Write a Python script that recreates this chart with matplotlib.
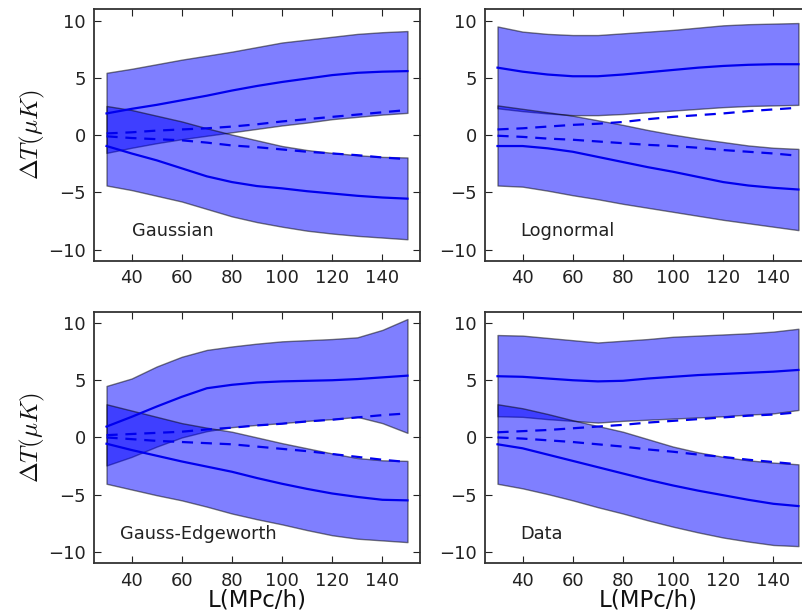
#! /usr/bin/env python
"""Temperature shift bands vs scale L for four models (2x2 panels)"""

import matplotlib
matplotlib.use("Agg")
from matplotlib import pyplot as plt

# Scale L (MPc/h) where values were read
L_VALUES = [30, 40, 50, 60, 70, 80, 90, 100, 110, 120, 130, 140, 150]

# Panel names
PANEL_NAMES = ["Gaussian", "Lognormal", "Gauss-Edgeworth", "Data"]

# Gaussian
GAUSS_UP_HI = [5.45, 5.8, 6.2, 6.6, 6.95, 7.3, 7.7, 8.1, 8.35, 8.6, 8.85, 9.0, 9.1]
GAUSS_UP_MID = [1.9, 2.3, 2.65, 3.05, 3.45, 3.9, 4.3, 4.65, 4.95, 5.25, 5.45, 5.55, 5.6]
GAUSS_UP_DASH = [0.15, 0.25, 0.4, 0.5, 0.6, 0.75, 0.95, 1.2, 1.4, 1.6, 1.8, 2.0, 2.2]
GAUSS_UP_LO = [-1.55, -1.1, -0.7, -0.35, -0.05, 0.25, 0.55, 0.85, 1.1, 1.4, 1.6, 1.8, 1.95]
GAUSS_LO_HI = [2.55, 2.2, 1.7, 1.2, 0.6, 0.05, -0.45, -0.95, -1.3, -1.55, -1.75, -1.9, -1.95]
GAUSS_LO_MID = [-0.95, -1.6, -2.2, -2.9, -3.6, -4.1, -4.45, -4.65, -4.9, -5.1, -5.3, -5.45, -5.55]
GAUSS_LO_DASH = [-0.1, -0.25, -0.35, -0.45, -0.65, -0.9, -1.05, -1.25, -1.45, -1.6, -1.75, -1.95, -2.1]
GAUSS_LO_LO = [-4.4, -4.8, -5.3, -5.8, -6.45, -7.1, -7.6, -8.0, -8.35, -8.6, -8.8, -8.95, -9.1]

# Lognormal
LOGN_UP_HI = [9.5, 9.05, 8.85, 8.75, 8.75, 8.9, 9.05, 9.2, 9.4, 9.6, 9.7, 9.75, 9.8]
LOGN_UP_MID = [5.9, 5.55, 5.3, 5.15, 5.15, 5.3, 5.5, 5.7, 5.9, 6.05, 6.15, 6.2, 6.2]
LOGN_UP_DASH = [0.5, 0.6, 0.75, 0.9, 1.0, 1.15, 1.4, 1.6, 1.75, 1.9, 2.1, 2.25, 2.4]
LOGN_UP_LO = [2.35, 2.1, 1.9, 1.75, 1.75, 1.85, 2.0, 2.15, 2.3, 2.45, 2.55, 2.6, 2.65]
LOGN_LO_HI = [2.6, 2.3, 2.0, 1.7, 1.3, 0.9, 0.45, 0.05, -0.3, -0.6, -0.9, -1.1, -1.2]
LOGN_LO_MID = [-0.95, -0.95, -1.15, -1.45, -1.9, -2.35, -2.8, -3.2, -3.65, -4.1, -4.4, -4.6, -4.75]
LOGN_LO_DASH = [-0.05, -0.15, -0.3, -0.4, -0.55, -0.7, -0.85, -0.95, -1.1, -1.3, -1.45, -1.6, -1.8]
LOGN_LO_LO = [-4.4, -4.5, -4.85, -5.25, -5.6, -6.0, -6.35, -6.7, -7.05, -7.4, -7.7, -8.0, -8.3]

# Gauss-Edgeworth
EDGE_UP_HI = [4.5, 5.15, 6.2, 7.05, 7.65, 7.95, 8.2, 8.4, 8.5, 8.6, 8.75, 9.4, 10.35]
EDGE_UP_MID = [0.95, 1.8, 2.7, 3.55, 4.3, 4.6, 4.8, 4.9, 4.95, 5.0, 5.1, 5.25, 5.4]
EDGE_UP_DASH = [0.2, 0.3, 0.4, 0.5, 0.7, 0.85, 1.05, 1.2, 1.4, 1.55, 1.75, 1.95, 2.1]
EDGE_UP_LO = [-2.45, -1.7, -0.8, 0.0, 0.55, 0.9, 1.1, 1.25, 1.45, 1.6, 1.8, 1.25, 0.4]
EDGE_LO_HI = [2.9, 2.35, 1.8, 1.25, 0.85, 0.5, 0.0, -0.5, -0.95, -1.4, -1.8, -2.0, -2.05]
EDGE_LO_MID = [-0.55, -1.1, -1.6, -2.1, -2.55, -3.0, -3.55, -4.05, -4.5, -4.9, -5.2, -5.45, -5.5]
EDGE_LO_DASH = [0.0, -0.15, -0.3, -0.4, -0.5, -0.6, -0.8, -1.0, -1.2, -1.45, -1.7, -1.95, -2.15]
EDGE_LO_LO = [-4.05, -4.55, -5.05, -5.5, -6.05, -6.65, -7.15, -7.6, -8.1, -8.55, -8.85, -9.0, -9.15]

# Data
DATA_UP_HI = [8.95, 8.9, 8.7, 8.5, 8.3, 8.45, 8.6, 8.8, 8.9, 9.0, 9.1, 9.25, 9.5]
DATA_UP_MID = [5.35, 5.3, 5.15, 5.0, 4.9, 4.95, 5.15, 5.3, 5.45, 5.55, 5.65, 5.75, 5.9]
DATA_UP_DASH = [0.45, 0.55, 0.65, 0.8, 0.95, 1.1, 1.3, 1.45, 1.6, 1.75, 1.9, 2.0, 2.2]
DATA_UP_LO = [1.85, 1.8, 1.6, 1.45, 1.3, 1.45, 1.55, 1.65, 1.75, 1.85, 2.0, 2.1, 2.4]
DATA_LO_HI = [2.9, 2.55, 2.05, 1.5, 1.0, 0.5, -0.15, -0.8, -1.3, -1.7, -2.0, -2.2, -2.35]
DATA_LO_MID = [-0.6, -0.95, -1.5, -2.05, -2.6, -3.15, -3.7, -4.2, -4.65, -5.05, -5.45, -5.8, -6.0]
DATA_LO_DASH = [0.0, -0.1, -0.25, -0.4, -0.6, -0.8, -1.05, -1.25, -1.5, -1.7, -1.95, -2.15, -2.35]
DATA_LO_LO = [-4.05, -4.45, -4.95, -5.5, -6.1, -6.65, -7.25, -7.8, -8.3, -8.75, -9.1, -9.4, -9.5]

PANEL_SERIES = [
    (GAUSS_UP_HI, GAUSS_UP_MID, GAUSS_UP_DASH, GAUSS_UP_LO,
     GAUSS_LO_HI, GAUSS_LO_MID, GAUSS_LO_DASH, GAUSS_LO_LO),
    (LOGN_UP_HI, LOGN_UP_MID, LOGN_UP_DASH, LOGN_UP_LO,
     LOGN_LO_HI, LOGN_LO_MID, LOGN_LO_DASH, LOGN_LO_LO),
    (EDGE_UP_HI, EDGE_UP_MID, EDGE_UP_DASH, EDGE_UP_LO,
     EDGE_LO_HI, EDGE_LO_MID, EDGE_LO_DASH, EDGE_LO_LO),
    (DATA_UP_HI, DATA_UP_MID, DATA_UP_DASH, DATA_UP_LO,
     DATA_LO_HI, DATA_LO_MID, DATA_LO_DASH, DATA_LO_LO),
]

# Layout (figure fractions); right column runs past the figure edge, as in the original crop
AXES_RECTS = [
    [0.1172, 0.5742, 0.4065, 0.4106],
    [0.6047, 0.5742, 0.4065, 0.4106],
    [0.1172, 0.0811, 0.4065, 0.4106],
    [0.6047, 0.0811, 0.4065, 0.4106],
]
LABEL_X = [40, 39, 35.5, 39]
LABEL_Y = -8.4

plt.rcParams["mathtext.fontset"] = "cm"


def draw_panel(ax, series, name, label_x):
    """Two shaded bands, each with a solid and a dashed line"""
    up_hi, up_mid, up_dash, up_lo, lo_hi, lo_mid, lo_dash, lo_lo = series
    for lo, hi in ((up_lo, up_hi), (lo_lo, lo_hi)):
        ax.fill_between(L_VALUES, lo, hi, facecolor="blue", edgecolor="black",
                        alpha=0.5, linewidth=1.0)
    for mid in (up_mid, lo_mid):
        ax.plot(L_VALUES, mid, color="#0000ee", linewidth=1.6)
    for dash in (up_dash, lo_dash):
        ax.plot(L_VALUES, dash, color="#0000ee", linewidth=1.6, dashes=(5, 3.5))
    ax.text(label_x, LABEL_Y, name, fontsize=12.8, va="center", ha="left",
            color="#222222")
    ax.set_xlim(25, 155)
    ax.set_ylim(-11, 11)
    ax.set_xticks([40, 60, 80, 100, 120, 140])
    ax.set_yticks([-10, -5, 0, 5, 10])
    ax.tick_params(direction="in", top=True, right=True, length=5, width=0.8,
                   labelsize=13, pad=6, colors="#222222")
    for spine in ax.spines.values():
        spine.set_linewidth(1.3)
        spine.set_color("#333333")


def main():
    """Entry point"""
    fig = plt.figure(figsize=(8.02, 6.13), dpi=100)
    for idx, rect in enumerate(AXES_RECTS):
        ax = fig.add_axes(rect)
        draw_panel(ax, PANEL_SERIES[idx], PANEL_NAMES[idx], LABEL_X[idx])
        if idx % 2 == 0:
            ax.set_ylabel(r"$\Delta T(\mu K)$", fontsize=18, labelpad=1,
                          color="#111111")
        if idx >= 2:
            ax.set_xlabel("L(MPc/h)", fontsize=16.5, labelpad=-1, color="#111111")
    fig.savefig("out.png", dpi=100)

#-------------------------------------------------------------------------------

if __name__ == "__main__":
    main()
